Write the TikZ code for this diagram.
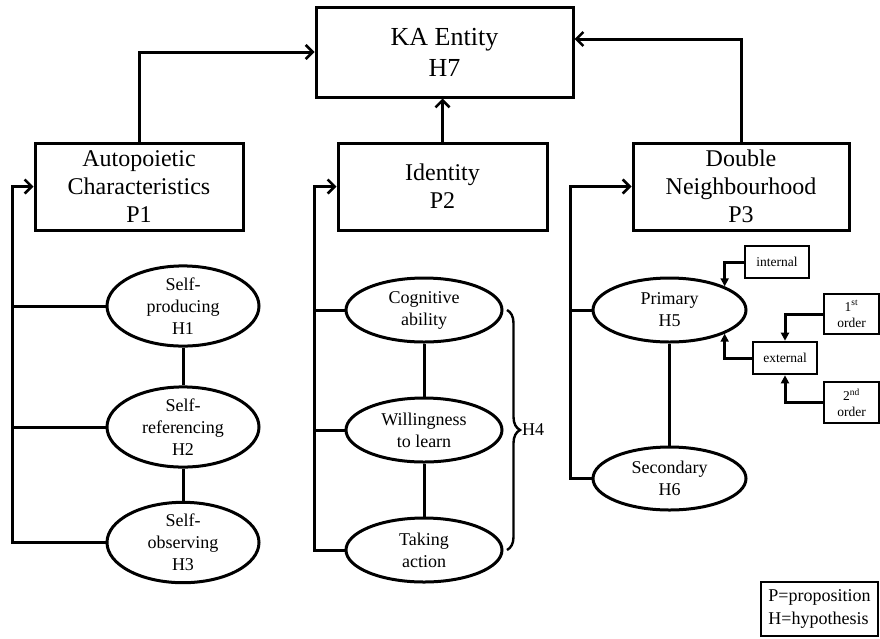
\documentclass[tikz,border=0pt]{standalone}
\usepackage{fontspec}
\setmainfont{Liberation Serif}
\usetikzlibrary{arrows.meta,shapes.geometric,decorations.pathreplacing}
\begin{document}
\begin{tikzpicture}[x=1pt,y=-1pt,
  line width=3pt,
  bigbox/.style={draw,rectangle,align=center,inner sep=0pt,font=\fontsize{24}{28}\selectfont},
  oval/.style={draw,ellipse,align=center,inner sep=0pt,font=\fontsize{18}{22}\selectfont},
  tag/.style={draw,rectangle,align=center,inner sep=0pt,line width=2.6pt,font=\fontsize{13.5}{16}\selectfont},
  feed/.style={-{Straight Barb[length=7pt,width=14pt,line width=2.6pt]}},
  link/.style={-{Triangle[length=8pt,width=8pt]}}]
\useasboundingbox (0,0) rectangle (880,638);

% top-level entity
\node[bigbox,font=\fontsize{26}{31}\selectfont,minimum width=257pt,minimum height=90pt] (ka) at (444.5,52) {KA Entity\\H7};

% propositions
\node[bigbox,minimum width=208pt,minimum height=87pt] (p1) at (139,186.5) {Autopoietic\\Characteristics\\P1};
\node[bigbox,minimum width=209pt,minimum height=87pt] (p2) at (442.5,186.5) {Identity\\P2};
\node[bigbox,minimum width=216pt,minimum height=87pt] (p3) at (741,186.5) {Double\\Neighbourhood\\P3};

% hypotheses under P1
\node[oval,minimum width=152pt,minimum height=72pt] (h1) at (183,306) {Self-\\producing\\H1};
\node[oval,minimum width=152pt,minimum height=70pt] (h2) at (183,427) {Self-\\referencing\\H2};
\node[oval,minimum width=152pt,minimum height=79pt] (h3) at (183,542.5) {Self-\\observing\\H3};

% components of identity
\node[oval,minimum width=156pt,minimum height=64pt] (c1) at (424,310) {Cognitive\\ability};
\node[oval,minimum width=156pt,minimum height=64pt] (c2) at (424,430) {Willingness\\to learn};
\node[oval,minimum width=156pt,minimum height=64pt] (c3) at (424,550) {Taking\\action};

% neighbourhood
\node[oval,minimum width=153pt,minimum height=64pt] (h5) at (669.5,310) {Primary\\H5};
\node[oval,minimum width=153pt,minimum height=63pt] (h6) at (669.5,478.5) {Secondary\\H6};

\node[tag,minimum width=64pt,minimum height=32pt] (int) at (777,262) {internal};
\node[tag,minimum width=64pt,minimum height=32pt] (ext) at (785,358) {external};
\node[tag,minimum width=55pt,minimum height=40pt] (o1) at (851.5,314) {1\textsuperscript{st}\\order};
\node[tag,minimum width=55pt,minimum height=41pt] (o2) at (851.5,402.5) {2\textsuperscript{nd}\\order};

% legend
\node[draw,rectangle,line width=2pt,minimum width=117pt,minimum height=54pt,inner sep=0pt,
      align=left,font=\fontsize{18}{23}\selectfont] (key) at (819.5,609) {P=proposition\\H=hypothesis};

% rails feeding the propositions
\coordinate (ra) at (12,0);
\coordinate (rb) at (314,0);
\coordinate (rc) at (570,0);

% propositions into the entity
\draw[feed] (p1.north) |- (ka.west |- 0,52);
\draw[feed] (p2.north) -- (p2.north |- ka.south);
\draw[feed] (p3.north) |- (ka.east |- 0,39);

% P1 branch
\draw[feed] (h3.west) -- (h3.west -| ra) |- (p1.west);
\draw (h1.west) -- (h1.west -| ra);
\draw (h2.west) -- (h2.west -| ra);
\draw (h1) -- (h2);
\draw (h2) -- (h3);

% P2 branch
\draw[feed] (c3.west) -- (c3.west -| rb) |- (p2.west);
\draw (c1.west) -- (c1.west -| rb);
\draw (c2.west) -- (c2.west -| rb);
\draw (c1) -- (c2);
\draw (c2) -- (c3);
\draw[line width=2.4pt,decorate,decoration={brace,amplitude=13pt}] (507,310) -- (507,550)
  node[midway,right=13pt,inner sep=1pt,font=\fontsize{18}{22}\selectfont] (h4) {H4};

% P3 branch
\draw[feed] (h6.west) -- (h6.west -| rc) |- (p3.west);
\draw (h5.west) -- (h5.west -| rc);
\draw (h5) -- (h6);

% kinds of neighbours
\draw[link] (int.west) -| (h5.north east);
\draw[link] (ext.west) -| (h5.south east);
\draw[link] (o1.west) -| (ext.north);
\draw[link] (o2.west) -| (ext.south);
\end{tikzpicture}
\end{document}
